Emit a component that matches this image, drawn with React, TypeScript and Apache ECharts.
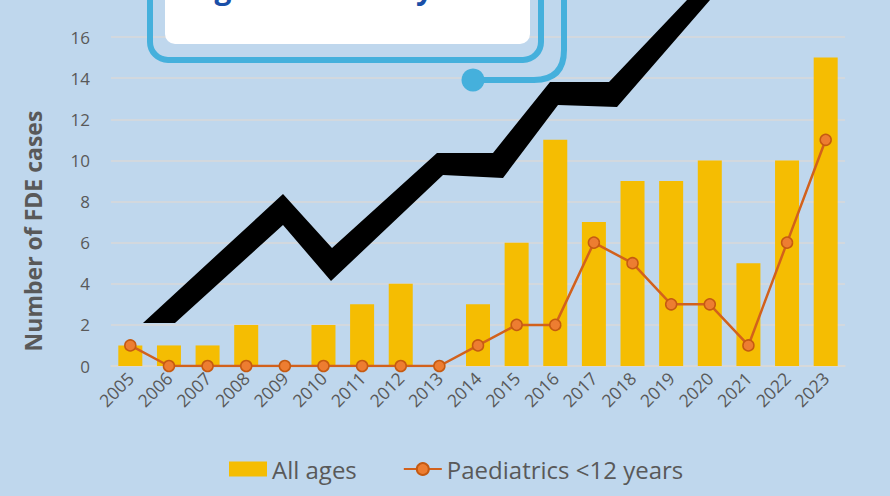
import React, { useEffect, useRef } from "react";
import * as echarts from "echarts";

const years = ["2005","2006","2007","2008","2009","2010","2011","2012","2013","2014","2015","2016","2017","2018","2019","2020","2021","2022","2023"];
const allAges = [1,1,1,2,0,2,3,4,0,3,6,11,7,9,9,10,5,10,15];
const paediatrics = [1,0,0,0,0,0,0,0,0,1,2,2,6,5,3,3,1,6,11];
const yTicks = { min: 0, max: 16, interval: 2 };

const zigzag = [
  [143,323],[283,194],[332,248],[437,153],[493,153],[550,82],[609,82],[687,0],[725,-40],
  [755,-40],[710,0],[617,107],[558,105],[503,178],[443,175],[331,281],[283,225],[175,323]
];

echarts.graphic.registerShape(
  "calloutTail",
  echarts.graphic.extendPath("M564 -10 L564 50 Q564 80 534 80 L473 80", {})
);

export default function App() {
  const ref = useRef<HTMLDivElement>(null);
  useEffect(() => {
    const chart = echarts.init(ref.current!, null, { renderer: "svg" });
    const font = "'Open Sans', 'Noto Sans', sans-serif";
    const grey = "#595959";
    chart.setOption({
      animation: false,
      backgroundColor: "#BFD7ED",
      textStyle: { fontFamily: font },
      grid: { left: 111, right: 45, top: 37, bottom: 130 },
      xAxis: {
        type: "category",
        data: years,
        axisTick: { show: false },
        axisLine: { lineStyle: { color: "#D9D9D9", width: 1.5 } },
        axisLabel: { rotate: 45, color: grey, fontSize: 17.5, margin: 9, interval: 0, fontFamily: font },
      },
      yAxis: {
        type: "value",
        min: yTicks.min,
        max: yTicks.max,
        interval: yTicks.interval,
        axisLabel: { color: grey, fontSize: 17, margin: 21, fontFamily: font },
        splitLine: { lineStyle: { color: "#D9D9D9", width: 1.5 } },
      },
      legend: {
        bottom: 10,
        left: 224,
        itemGap: 46,
        itemWidth: 38,
        itemHeight: 15,
        textStyle: { color: grey, fontSize: 24, fontFamily: font },
        data: [
          { name: "All ages", icon: "rect" },
          { name: "Paediatrics <12 years" },
        ],
      },
      series: [
        {
          name: "All ages",
          type: "bar",
          data: allAges,
          barWidth: 24,
          itemStyle: { color: "#F5BD02" },
        },
        {
          name: "Paediatrics <12 years",
          type: "line",
          data: paediatrics,
          symbol: "circle",
          symbolSize: 11,
          lineStyle: { color: "#D2611C", width: 2.5 },
          itemStyle: { color: "#ED7D31", borderColor: "#C55A11", borderWidth: 1.5 },
          z: 5,
        },
      ],
      graphic: [
        {
          type: "polygon",
          z: 100,
          shape: { points: zigzag },
          style: { fill: "#000000" },
        },
        {
          type: "rect",
          z: 101,
          shape: { x: 150, y: -40, width: 391, height: 100, r: 18 },
          style: { fill: "none", stroke: "#45B0DC", lineWidth: 6 },
        },
        {
          type: "calloutTail",
          z: 101,
          x: 0,
          y: 0,
          style: { fill: "none", stroke: "#45B0DC", lineWidth: 6 },
        },
        {
          type: "circle",
          z: 102,
          shape: { cx: 473, cy: 80, r: 11.5 },
          style: { fill: "#45B0DC" },
        },
        {
          type: "rect",
          z: 101,
          shape: { x: 165, y: -30, width: 365, height: 74, r: 10 },
          style: { fill: "#FFFFFF" },
        },
        {
          type: "text",
          z: 103,
          x: 347,
          y: 2,
          style: {
            text: "aged below 12 years",
            fill: "#1A4FA8",
            font: "bold 30px 'Open Sans', sans-serif",
            align: "center",
            verticalAlign: "bottom",
          },
        },
        {
          type: "text",
          z: 100,
          x: 33,
          y: 231,
          rotation: Math.PI / 2,
          style: {
            text: "Number of FDE cases",
            fill: grey,
            font: "bold 23px 'Open Sans', sans-serif",
            align: "center",
            verticalAlign: "middle",
          },
        },
      ],
    });
    return () => chart.dispose();
  }, []);
  return <div ref={ref} style={{ width: 890, height: 496, position: "fixed", left: 0, top: 0 }} />;
}
